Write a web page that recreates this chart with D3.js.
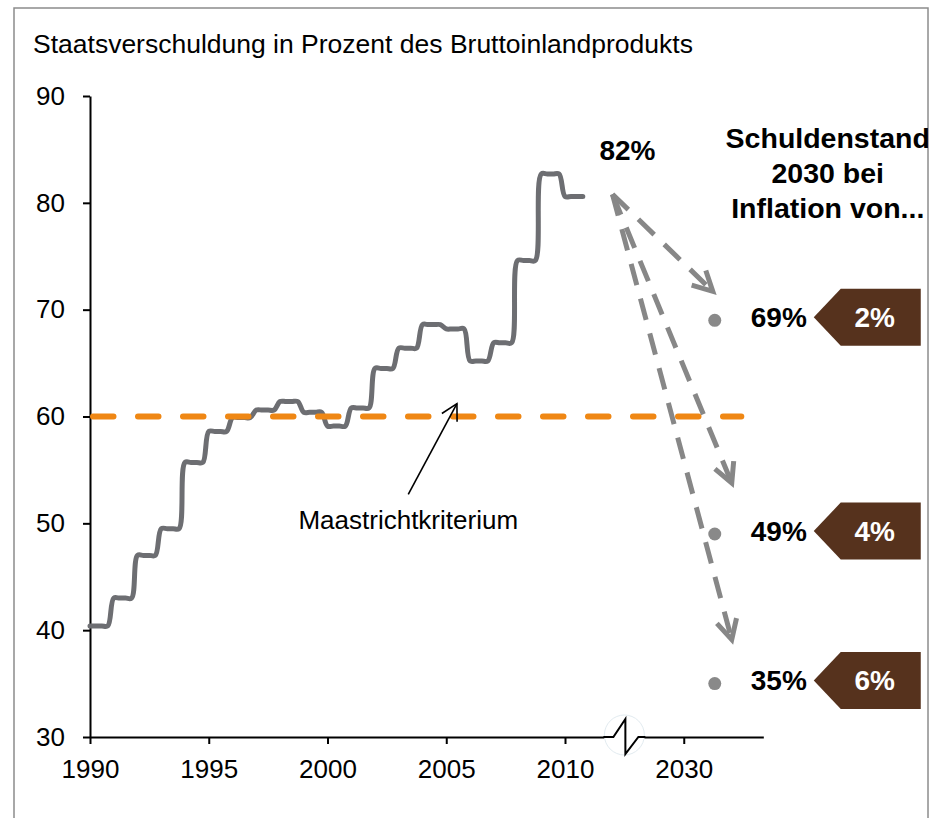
<!DOCTYPE html>
<html>
<head>
<meta charset="utf-8">
<script src="https://cdn.jsdelivr.net/npm/d3@7"></script>
<style>
	body { margin: 0; background: #fff; }
	text { font-family: "Liberation Sans", Arial, sans-serif; }
</style>
</head>
<body>
<script>

// annual debt ratio (plotted on a quarterly axis, as in the original sheet)
var years = [1990, 1991, 1992, 1993, 1994, 1995, 1996, 1997, 1998, 1999, 2000,
	2001, 2002, 2003, 2004, 2005, 2006, 2007, 2008, 2009, 2010];
var debtRatio = [40.4, 43.0, 47.0, 49.5, 55.7, 58.6, 59.9, 60.6, 61.4, 60.4, 59.1,
	60.8, 64.5, 66.4, 68.6, 68.2, 65.2, 66.9, 74.6, 82.7, 80.6];
var quarterOffsets = [0, 0.25, 0.5, 0.75];

// scenarios for 2030
var inflationRates = ["2%", "4%", "6%"];
var debt2030 = [69, 49, 35];
var projectionYear = 2030;
var currentDebt = {year: 2012, value: 80.8, label: "82%"};

var maastrichtLimit = 60;
var xTickYears = [1990, 1995, 2000, 2005, 2010, 2030];
var yTicks = [30, 40, 50, 60, 70, 80, 90];

var width = 931,
	height = 818;

var plotLeft = 90,
	yearWidth = 23.75,
	breakFrom = 2012.5,
	breakTo = 2027.5,
	axisEndYear = 2033.35;

var breakX = plotLeft + (breakFrom - 1990) * yearWidth;

// x scale with a gap between 2012 and 2027
var x = d3.scaleLinear()
	.domain([1990, breakFrom, breakTo, axisEndYear])
	.range([plotLeft, breakX, breakX, breakX + (axisEndYear - breakTo) * yearWidth]);

var y = d3.scaleLinear()
	.domain([30, 90])
	.range([737, 96]);

var svg = d3.select("body").append("svg")
	.attr("width", width)
	.attr("height", height);

svg.append("clipPath")
	.attr("id", "frame-clip")
	.append("rect")
	.attr("x", 14)
	.attr("y", 8)
	.attr("width", 914)
	.attr("height", 830);

// outer frame
svg.append("rect")
	.attr("x", 14)
	.attr("y", 8)
	.attr("width", 914)
	.attr("height", 830)
	.attr("fill", "none")
	.attr("stroke", "#8c8c8c")
	.attr("stroke-width", 1.5);

var g = svg.append("g")
	.attr("clip-path", "url(#frame-clip)");

g.append("text")
	.attr("x", 33)
	.attr("y", 53)
	.style("font-size", "26.5px")
	.attr("fill", "#000")
	.text("Staatsverschuldung in Prozent des Bruttoinlandprodukts");

// ****************** axes ***************************

var yAxis = g.append("g")
	.attr("transform", "translate(" + plotLeft + ",0)")
	.call(d3.axisLeft(y).tickValues(yTicks).tickSize(7).tickSizeOuter(0).tickPadding(18));

var xAxis = g.append("g")
	.attr("transform", "translate(0," + y(30) + ")")
	.call(d3.axisBottom(x).tickValues(xTickYears).tickFormat(d3.format("d"))
		.tickSize(7).tickSizeOuter(0).tickPadding(16));

[yAxis, xAxis].forEach(function (ax) {
	ax.select(".domain").attr("stroke", "#000").attr("stroke-width", 2);
	ax.selectAll(".tick line").attr("stroke", "#000").attr("stroke-width", 2);
	ax.selectAll(".tick text")
		.attr("fill", "#000")
		.style("font-size", "26px")
		.style("font-family", "'Liberation Sans', Arial, sans-serif");
});

// axis break mark
var by = y(30);
g.append("circle")
	.attr("cx", breakX)
	.attr("cy", by - 2)
	.attr("r", 20)
	.attr("fill", "#fff")
	.attr("stroke", "#e2ebf0")
	.attr("stroke-width", 1);

g.append("path")
	.attr("d", d3.line()([
		[breakX - 21, by], [breakX - 11, by], [breakX + 1, by - 18],
		[breakX + 1, by + 17], [breakX + 14, by], [breakX + 21, by]
	]))
	.attr("fill", "none")
	.attr("stroke", "#000")
	.attr("stroke-width", 2);

// ****************** debt series ***************************

var points = [];
years.forEach(function (yr, i) {
	quarterOffsets.forEach(function (q) {
		points.push({t: yr + q, v: debtRatio[i]});
	});
});

var line = d3.line()
	.x(function (d) { return x(d.t); })
	.y(function (d) { return y(d.v); })
	.curve(d3.curveCatmullRom.alpha(0.5));

g.append("path")
	.datum(points)
	.attr("d", line)
	.attr("fill", "none")
	.attr("stroke", "#6d6e72")
	.attr("stroke-width", 5)
	.attr("stroke-linejoin", "round")
	.attr("stroke-linecap", "round");

// Maastricht limit
g.append("line")
	.attr("x1", x(1990) + 3)
	.attr("x2", x(axisEndYear) - 22)
	.attr("y1", y(maastrichtLimit))
	.attr("y2", y(maastrichtLimit))
	.attr("stroke", "#ef8714")
	.attr("stroke-width", 6)
	.attr("stroke-dasharray", "20.5,24.5")
	.attr("stroke-linecap", "round");

function chevron(tip, from, len, ang) {
	var a = Math.atan2(from[1] - tip[1], from[0] - tip[0]);
	return [
		[tip[0] + len * Math.cos(a + ang), tip[1] + len * Math.sin(a + ang)],
		tip,
		[tip[0] + len * Math.cos(a - ang), tip[1] + len * Math.sin(a - ang)]
	];
}

// Maastricht annotation
var mFrom = [x(2003.4), y(52.7)],
	mTo = [x(2005.45), y(61.2)];

g.append("line")
	.attr("x1", mFrom[0]).attr("y1", mFrom[1])
	.attr("x2", mTo[0]).attr("y2", mTo[1])
	.attr("stroke", "#000")
	.attr("stroke-width", 1.6);

g.append("path")
	.attr("d", d3.line()(chevron(mTo, mFrom, 18, 0.5)))
	.attr("fill", "none")
	.attr("stroke", "#000")
	.attr("stroke-width", 1.6);

g.append("text")
	.attr("x", mFrom[0])
	.attr("y", mFrom[1] + 35)
	.attr("text-anchor", "middle")
	.style("font-size", "26px")
	.text("Maastrichtkriterium");

// ****************** projection section ***************************

var dotX = x(projectionYear) + 31;
var origin = [x(currentDebt.year), y(currentDebt.value)];

g.append("text")
	.attr("x", origin[0] + 15)
	.attr("y", origin[1] - 34)
	.attr("text-anchor", "middle")
	.style("font-size", "28px")
	.style("font-weight", "bold")
	.text(currentDebt.label);

// where each dashed arrow stops, relative to its dot
var arrowEnds = [[-2, -29], [17, -51], [17, -44]];

debt2030.forEach(function (v, i) {
	var end = [dotX + arrowEnds[i][0], y(v) + arrowEnds[i][1]];

	g.append("line")
		.attr("x1", origin[0]).attr("y1", origin[1])
		.attr("x2", end[0]).attr("y2", end[1])
		.attr("stroke", "#878787")
		.attr("stroke-width", 5)
		.attr("stroke-dasharray", "22,14");

	g.append("path")
		.attr("d", d3.line()(chevron(end, origin, 22, 0.48)))
		.attr("fill", "none")
		.attr("stroke", "#878787")
		.attr("stroke-width", 5);
});

var scen = g.selectAll("g.scenario")
	.data(debt2030)
	.enter().append("g")
	.attr("class", "scenario");

scen.append("circle")
	.attr("cx", dotX)
	.attr("cy", function (d) { return y(d); })
	.attr("r", 6.5)
	.attr("fill", "#898989");

scen.append("text")
	.attr("x", dotX + 36)
	.attr("y", function (d) { return y(d) - 3; })
	.attr("dy", "0.35em")
	.style("font-size", "28px")
	.style("font-weight", "bold")
	.text(function (d) { return d + "%"; });

// brown tags with the inflation rate
scen.append("path")
	.attr("d", function (d) {
		var cy = y(d) - 3;
		return d3.line()([
			[dotX + 99, cy], [dotX + 126, cy - 28.5], [dotX + 206, cy - 28.5],
			[dotX + 206, cy + 28.5], [dotX + 126, cy + 28.5]
		]) + "Z";
	})
	.attr("fill", "#56321d");

scen.append("text")
	.attr("x", dotX + 160)
	.attr("y", function (d) { return y(d) - 3; })
	.attr("dy", "0.35em")
	.attr("text-anchor", "middle")
	.attr("fill", "#fff")
	.style("font-size", "28px")
	.style("font-weight", "bold")
	.text(function (d, i) { return inflationRates[i]; });

// header for the scenarios
var header = ["Schuldenstand", "2030 bei", "Inflation von..."];
g.selectAll("text.header")
	.data(header)
	.enter().append("text")
	.attr("class", "header")
	.attr("x", dotX + 113)
	.attr("y", function (d, i) { return 148 + i * 35; })
	.attr("text-anchor", "middle")
	.style("font-size", "28.5px")
	.style("font-weight", "bold")
	.text(function (d) { return d; });

</script>
</body>
</html>
